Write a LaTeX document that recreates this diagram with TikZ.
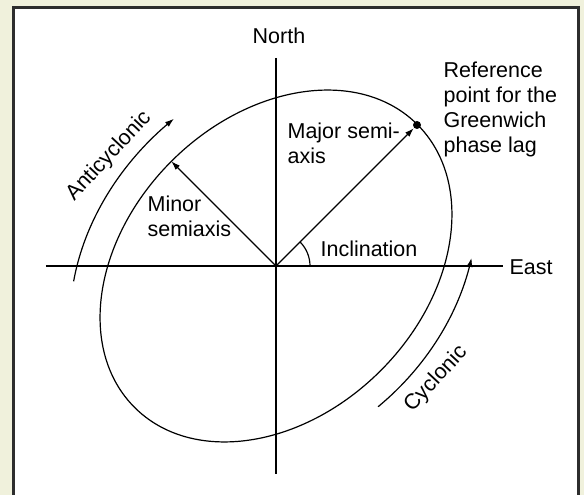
\documentclass[tikz,border=0pt]{standalone}
\usepackage{fontspec}
\setmainfont{Liberation Sans}
\usetikzlibrary{arrows.meta}
\definecolor{cream}{RGB}{240,241,220}
\definecolor{framecol}{RGB}{45,45,45}
\begin{document}
\begin{tikzpicture}[x=1pt,y=1pt, line width=1.2pt,
  lbl/.style={inner sep=0pt, font=\fontsize{21.5}{25}\selectfont},
  tip/.style={-{Latex[length=9pt,width=6pt]}}]
\useasboundingbox (-276,-229) rectangle (308,266);
\clip (-276,-229) rectangle (308,266);
\fill[cream] (-276,-229) rectangle (308,266);
\draw[framecol, line width=3pt, fill=white] (-262.5,-240) rectangle (302,258.5);
% axes
\coordinate (O) at (0,0);
\coordinate (N1) at (0,208);
\coordinate (S1) at (0,-208);
\coordinate (W1) at (-230,0);
\coordinate (E1) at (227,0);
\draw (N1) -- (S1);
\draw (W1) -- (E1);
% ellipse
\draw[rotate=45] (O) ellipse [x radius=200pt, y radius=148pt];
% semiaxes
\node[circle, fill, inner sep=0pt, minimum size=8pt] (dot) at (141,141) {};
\draw[tip] (O) -- (dot);
\coordinate (mtip) at (-104.7,104.7);
\draw[tip] (O) -- (mtip);
% inclination arc
\coordinate (iarc) at (34,0);
\draw (iarc) arc[start angle=0, end angle=45, radius=34pt];
% rotation arcs
\draw[tip] plot[domain=132:82, samples=60, variable=\t] ({0.7071*(230*cos(\t)-178*sin(\t))},{0.7071*(230*cos(\t)+178*sin(\t))});
\draw[tip] plot[domain=263:310, samples=60, variable=\t] ({0.7071*(224*cos(\t)-173*sin(\t))},{0.7071*(224*cos(\t)+173*sin(\t))});
% labels
\node[lbl, anchor=base] (north) at (3,222) {North};
\node[lbl, anchor=base west] (east) at (233,-9) {East};
\node[lbl, anchor=base west] (incl) at (44,9) {Inclination};
\node[lbl, anchor=north west, align=left] (major) at (11,143.6) {Major semi-\\axis};
\node[lbl, anchor=north west, align=left] (minor) at (-129,70.5) {Minor\\semiaxis};
\node[lbl, anchor=north west, align=left] (ref) at (167,204.5) {Reference\\point for the\\Greenwich\\phase lag};
\node[lbl, rotate=47] (anti) at (-167,110) {Anticyclonic};
\node[lbl, rotate=47] (cyc) at (160,-113) {Cyclonic};
\end{tikzpicture}
\end{document}
